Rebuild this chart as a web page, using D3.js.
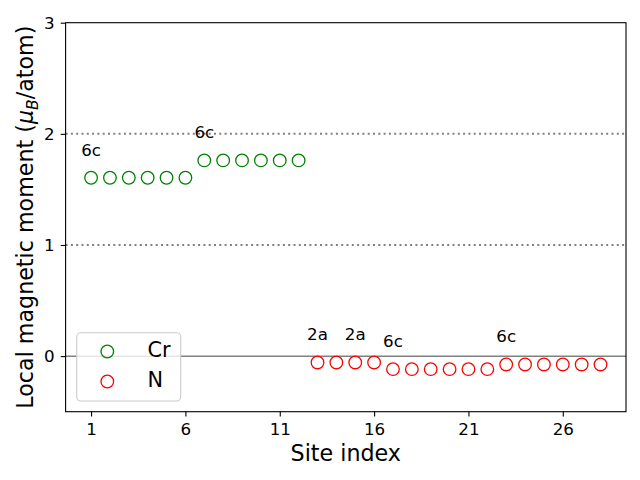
<!DOCTYPE html>
<html><head><meta charset="utf-8">
<script src="https://cdn.jsdelivr.net/npm/d3@7"></script>
<style>body{margin:0;background:#fff}svg{display:block;font-family:"DejaVu Sans",sans-serif}</style>
</head><body>
<svg id="c" width="640" height="480"></svg>
<script>
const crSites = [1,2,3,4,5,6,7,8,9,10,11,12];
const crValues = [1.605,1.605,1.605,1.605,1.605,1.605,1.761,1.761,1.761,1.761,1.761,1.761];
const nSites = [13,14,15,16,17,18,19,20,21,22,23,24,25,26,27,28];
const nValues = [-0.057,-0.057,-0.057,-0.057,-0.117,-0.117,-0.117,-0.117,-0.117,-0.117,-0.075,-0.075,-0.075,-0.075,-0.075,-0.075];
const xTicks = [1,6,11,16,21,26];
const yTicks = [0,1,2,3];
const refLines = [1,2];
const annotations = [
  {site:1, value:1.605, label:"6c"},
  {site:7, value:1.761, label:"6c"},
  {site:13, value:-0.057, label:"2a"},
  {site:15, value:-0.057, label:"2a"},
  {site:17, value:-0.117, label:"6c"},
  {site:23, value:-0.075, label:"6c"}
];
const seriesNames = ["Cr","N"];
const seriesColors = ["green","red"];

const svg = d3.select("#c");
const L=65.6, R=626, T=22.7, B=411.7;
const x = d3.scaleLinear().domain([-0.35,29.35]).range([L,R]);
const y = d3.scaleLinear().domain([-0.5,3]).range([B,T]);

// reference lines
svg.selectAll(".ref").data(refLines).enter().append("line")
  .attr("x1",L).attr("x2",R).attr("y1",d=>y(d)).attr("y2",d=>y(d))
  .attr("stroke","#808080").attr("stroke-width",2).attr("stroke-dasharray","2,3.3");
svg.append("line").attr("x1",L).attr("x2",R).attr("y1",y(0)).attr("y2",y(0))
  .attr("stroke","#808080").attr("stroke-width",1.5);

// markers
function drawSeries(sites, vals, color){
  svg.append("g").selectAll("circle").data(sites).enter().append("circle")
    .attr("cx",d=>x(d)).attr("cy",(d,i)=>y(vals[i])).attr("r",6.3)
    .attr("fill","none").attr("stroke",color).attr("stroke-width",1.3);
}
drawSeries(crSites, crValues, seriesColors[0]);
drawSeries(nSites, nValues, seriesColors[1]);

// annotations
svg.append("g").selectAll("text").data(annotations).enter().append("text")
  .attr("x",d=>x(d.site)).attr("y",d=>y(d.value+0.2))
  .attr("text-anchor","middle").attr("font-size","16.7px").attr("fill","#000")
  .text(d=>d.label);

// axes
const xAxis = d3.axisBottom(x).tickValues(xTicks).tickSize(4.9).tickPadding(6.5).tickFormat(d3.format("d"));
const gx = svg.append("g").attr("transform",`translate(0,${B})`).call(xAxis);
gx.select(".domain").remove();
gx.selectAll("text").attr("font-size","16.7px").attr("font-family","DejaVu Sans").attr("fill","#000");
gx.selectAll("line").attr("stroke","#000").attr("stroke-width",1.1);

const yAxis = d3.axisLeft(y).tickValues(yTicks).tickSize(4.9).tickPadding(6).tickFormat(d3.format("d"));
const gy = svg.append("g").attr("transform",`translate(${L},0)`).call(yAxis);
gy.select(".domain").remove();
gy.selectAll("text").attr("font-size","16.7px").attr("font-family","DejaVu Sans").attr("fill","#000");
gy.selectAll("line").attr("stroke","#000").attr("stroke-width",1.1);

svg.append("rect").attr("x",L).attr("y",T).attr("width",R-L).attr("height",B-T)
  .attr("fill","none").attr("stroke","#000").attr("stroke-width",1.1);

// axis labels
svg.append("text").attr("x",(L+R)/2).attr("y",461).attr("text-anchor","middle")
  .attr("font-size","22.2px").attr("fill","#000").text("Site index");
const yl = svg.append("text").attr("transform",`translate(33,${(T+B)/2}) rotate(-90)`)
  .attr("text-anchor","middle").attr("font-size","22.2px").attr("fill","#000");
yl.append("tspan").text("Local magnetic moment (");
yl.append("tspan").attr("font-style","italic").text("μ");
yl.append("tspan").attr("font-size","15.5px").attr("dy",5).attr("font-style","italic").text("B");
yl.append("tspan").attr("dy",-5).text("/atom)");

// legend
const lg = svg.append("g");
lg.append("rect").attr("x",76.7).attr("y",332.7).attr("width",104).attr("height",68.3)
  .attr("rx",4).attr("fill","#fff").attr("fill-opacity",0.8).attr("stroke","#cccccc").attr("stroke-width",1.1);
const ly = [351.5,381.5];
seriesNames.forEach((n,i)=>{
  lg.append("circle").attr("cx",107.3).attr("cy",ly[i]).attr("r",6.3)
    .attr("fill","none").attr("stroke",seriesColors[i]).attr("stroke-width",1.3);
  lg.append("text").attr("x",147.5).attr("y",ly[i]+5.8).attr("font-size","20.8px").attr("fill","#000").text(n);
});
</script>
</body></html>
